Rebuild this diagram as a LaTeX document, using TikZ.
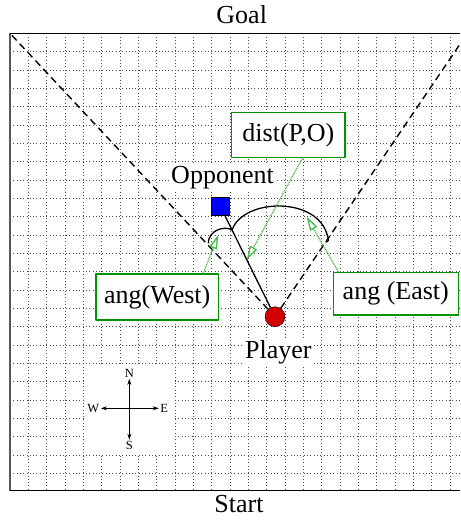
\documentclass[tikz,border=0pt]{standalone}
\usepackage{fontspec}
\setmainfont{Liberation Serif}
\usepackage{tikz}
\usetikzlibrary{arrows.meta,calc}

\definecolor{boxgreen}{RGB}{0,150,0}
\definecolor{ptrgreen}{RGB}{70,185,70}
\definecolor{playerred}{RGB}{210,0,0}

\begin{document}
\begin{tikzpicture}[x=1pt,y=-1pt,join=round, % Field with player, opponent and angles
       gridline/.style={black!70,line width=.6pt,dash pattern=on .7pt off 2.6pt},
       fieldline/.style={line width=1.4pt,dash pattern=on 7pt off 4.5pt},
       labelbox/.style={draw=boxgreen,line width=1.4pt,fill=white,inner sep=0pt,font=\fontsize{26}{30}\selectfont},
       pointer/.style={ptrgreen,line width=1.3pt,dash pattern=on 1pt off .8pt,-{Triangle[length=14pt,width=8pt,fill=white]}},
       bigtext/.style={font=\fontsize{26}{30}\selectfont},
       compasstext/.style={font=\fontsize{12.5}{14}\selectfont,inner sep=1.5pt}]
       \useasboundingbox (0,0) rectangle (460,526);
       \clip (0,0) rectangle (460,526);
       % dotted grid
       \foreach \k in {1,...,24} {
           \draw[gridline] ({10+18.333*\k},33.33) -- ({10+18.333*\k},490.67);
           \draw[gridline] (10,{33.33+18.333*\k}) -- (460,{33.33+18.333*\k});
       }
       \fill[white] (84,364.3) rectangle (174.2,454);
       \draw[black!65,line width=2pt] (10,33.33) -- (10,490.67);
       \draw[line width=1.3pt] (10,33.33) -- (460,33.33);
       \draw[line width=1.3pt] (10,490.67) -- (460,490.67);
       \coordinate (nw) at (10,33.33);
       \coordinate (ne) at (467.33,33.33);
       \path (241.7,24) node [bigtext,anchor=base] (goal) {Goal}
             (239,512.7) node [bigtext,anchor=base] (start) {Start};
       % players
       \node[bigtext,anchor=base,fill=white,inner sep=1pt] (opplabel) at (222.5,183.3) {Opponent};
       \node[draw,fill=blue,minimum size=17.3pt,inner sep=0pt] (opp) at (220.3,206.3) {};
       \node[draw,circle,fill=playerred,minimum size=20pt,inner sep=0pt] (player) at (275,316.7) {};
       \node[bigtext,anchor=base,fill=white,inner sep=1pt] (playerlabel) at (278.3,358.3) {Player};
       \draw[fieldline] (player) -- (nw);
       \draw[fieldline] (player) -- (ne);
       \draw[line width=1.3pt] (opp) -- (player);
       \coordinate (join) at ($(opp)!0.215!(player)$);
       \draw[line width=1.3pt] (208.3,243.3) .. controls (208,231) and (224,225) .. (join);
       \draw[line width=1.3pt] (join) .. controls (243,198) and (318,196) .. (327.5,236)
             .. controls (329,240.5) .. (325.7,242.3);
       % labels
       \node[labelbox,minimum width=113.3pt,minimum height=45.3pt] (dist) at (288.3,135) {dist(P,O)};
       \node[labelbox,minimum width=122.3pt,minimum height=46pt] (west) at (157.2,297) {ang(West)};
       \node[labelbox,minimum width=125pt,minimum height=42.7pt] (east) at (395.8,293.7) {ang (East)};
       \coordinate (distpt) at ($(opp)!0.485!(player)$);
       \coordinate (westpt) at (218.3,235);
       \coordinate (eastpt) at (306.7,216.7);
       \draw[pointer] ([xshift=14pt]dist.south) -- (distpt);
       \draw[pointer] ([xshift=46pt]west.north) -- (westpt);
       \draw[pointer] ([xshift=-57.5pt]east.north) -- (eastpt);
       % compass
       \coordinate (compass) at (129.3,408.3);
       \node[compasstext] (N) at (129.3,373) {N};
       \node[compasstext] (S) at (129.3,445.5) {S};
       \node[compasstext] (W) at (93.3,408.3) {W};
       \node[compasstext] (E) at (164.3,408.3) {E};
       \foreach \d in {N,S,W,E}
           \draw[line width=.8pt,-{Stealth[length=6pt,width=4pt]}] (compass) -- (\d);
    \end{tikzpicture}
\end{document}
